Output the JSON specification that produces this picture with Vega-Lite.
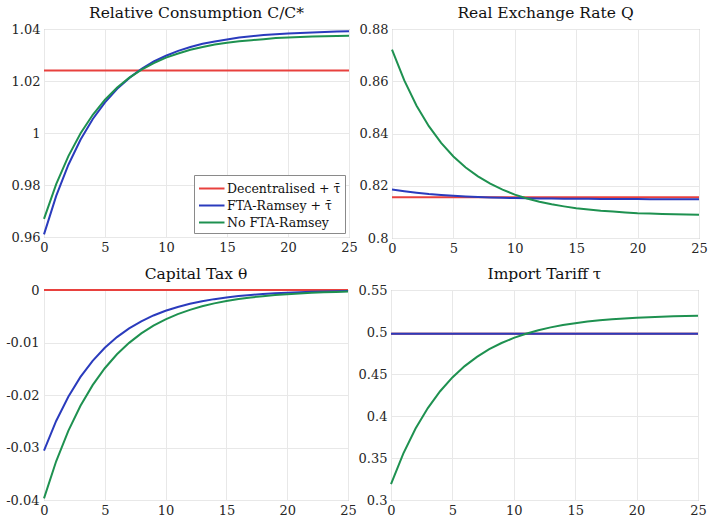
{
  "$schema": "https://vega.github.io/schema/vega-lite/v6.json",
  "padding": {"left": 5, "top": 5, "right": 5, "bottom": 2},
  "background": "white",
  "config": {
    "font": "DejaVu Serif",
    "view": {"stroke": "#a0a0a0", "strokeWidth": 1},
    "axis": {"domain": false, "ticks": false, "grid": true, "gridColor": "#e8e8e8", "labelFont": "DejaVu Serif", "labelFontSize": 13, "labelColor": "#262626", "labelPadding": 4, "labelFlush": false, "labelOverlap": false},
    "title": {"font": "DejaVu Serif", "fontSize": 15.5, "fontWeight": "normal", "color": "#111111", "offset": 2},
    "legend": {"fillColor": "white", "strokeColor": "#8a8a8a", "padding": 4, "labelFont": "DejaVu Serif", "labelFontSize": 12.5, "labelColor": "#111111", "symbolType": "M-1,0H2", "symbolStrokeWidth": 2, "symbolSize": 289, "rowPadding": 1, "labelOffset": 10}
  },
  "datasets": {
    "cons": [
      {"t": 0, "dec": 1.024, "fta": 0.9610, "no": 0.9670},
      {"t": 1, "dec": 1.024, "fta": 0.9758, "no": 0.9803},
      {"t": 2, "dec": 1.024, "fta": 0.9878, "no": 0.9911},
      {"t": 3, "dec": 1.024, "fta": 0.9975, "no": 0.9999},
      {"t": 4, "dec": 1.024, "fta": 1.0054, "no": 1.0070},
      {"t": 5, "dec": 1.024, "fta": 1.0118, "no": 1.0128},
      {"t": 6, "dec": 1.024, "fta": 1.0170, "no": 1.0175},
      {"t": 7, "dec": 1.024, "fta": 1.0212, "no": 1.0213},
      {"t": 8, "dec": 1.024, "fta": 1.0247, "no": 1.0244},
      {"t": 9, "dec": 1.024, "fta": 1.0275, "no": 1.0269},
      {"t": 10, "dec": 1.024, "fta": 1.0297, "no": 1.0290},
      {"t": 11, "dec": 1.024, "fta": 1.0316, "no": 1.0306},
      {"t": 12, "dec": 1.024, "fta": 1.0331, "no": 1.0320},
      {"t": 13, "dec": 1.024, "fta": 1.0343, "no": 1.0331},
      {"t": 14, "dec": 1.024, "fta": 1.0352, "no": 1.0340},
      {"t": 15, "dec": 1.024, "fta": 1.0360, "no": 1.0347},
      {"t": 16, "dec": 1.024, "fta": 1.0367, "no": 1.0353},
      {"t": 17, "dec": 1.024, "fta": 1.0372, "no": 1.0357},
      {"t": 18, "dec": 1.024, "fta": 1.0377, "no": 1.0361},
      {"t": 19, "dec": 1.024, "fta": 1.0380, "no": 1.0365},
      {"t": 20, "dec": 1.024, "fta": 1.0383, "no": 1.0367},
      {"t": 21, "dec": 1.024, "fta": 1.0385, "no": 1.0369},
      {"t": 22, "dec": 1.024, "fta": 1.0387, "no": 1.0371},
      {"t": 23, "dec": 1.024, "fta": 1.0388, "no": 1.0372},
      {"t": 24, "dec": 1.024, "fta": 1.0390, "no": 1.0373},
      {"t": 25, "dec": 1.024, "fta": 1.0391, "no": 1.0374}
    ],
    "rer": [
      {"t": 0, "dec": 0.8156, "fta": 0.8186, "no": 0.8721},
      {"t": 1, "dec": 0.8156, "fta": 0.8179, "no": 0.8603},
      {"t": 2, "dec": 0.8156, "fta": 0.8173, "no": 0.8506},
      {"t": 3, "dec": 0.8156, "fta": 0.8168, "no": 0.8428},
      {"t": 4, "dec": 0.8156, "fta": 0.8165, "no": 0.8364},
      {"t": 5, "dec": 0.8156, "fta": 0.8162, "no": 0.8312},
      {"t": 6, "dec": 0.8156, "fta": 0.8159, "no": 0.8270},
      {"t": 7, "dec": 0.8156, "fta": 0.8157, "no": 0.8236},
      {"t": 8, "dec": 0.8156, "fta": 0.8155, "no": 0.8208},
      {"t": 9, "dec": 0.8156, "fta": 0.8154, "no": 0.8185},
      {"t": 10, "dec": 0.8156, "fta": 0.8153, "no": 0.8166},
      {"t": 11, "dec": 0.8156, "fta": 0.8152, "no": 0.8151},
      {"t": 12, "dec": 0.8156, "fta": 0.8151, "no": 0.8139},
      {"t": 13, "dec": 0.8156, "fta": 0.8151, "no": 0.8129},
      {"t": 14, "dec": 0.8156, "fta": 0.8150, "no": 0.8121},
      {"t": 15, "dec": 0.8156, "fta": 0.8150, "no": 0.8114},
      {"t": 16, "dec": 0.8156, "fta": 0.8150, "no": 0.8109},
      {"t": 17, "dec": 0.8156, "fta": 0.8149, "no": 0.8104},
      {"t": 18, "dec": 0.8156, "fta": 0.8149, "no": 0.8101},
      {"t": 19, "dec": 0.8156, "fta": 0.8149, "no": 0.8098},
      {"t": 20, "dec": 0.8156, "fta": 0.8149, "no": 0.8095},
      {"t": 21, "dec": 0.8156, "fta": 0.8148, "no": 0.8094},
      {"t": 22, "dec": 0.8156, "fta": 0.8148, "no": 0.8092},
      {"t": 23, "dec": 0.8156, "fta": 0.8148, "no": 0.8091},
      {"t": 24, "dec": 0.8156, "fta": 0.8148, "no": 0.8090},
      {"t": 25, "dec": 0.8156, "fta": 0.8148, "no": 0.8089}
    ],
    "tax": [
      {"t": 0, "dec": 0, "fta": -0.0306, "no": -0.0397},
      {"t": 1, "dec": 0, "fta": -0.02494, "no": -0.03263},
      {"t": 2, "dec": 0, "fta": -0.02032, "no": -0.02683},
      {"t": 3, "dec": 0, "fta": -0.01656, "no": -0.02205},
      {"t": 4, "dec": 0, "fta": -0.0135, "no": -0.01812},
      {"t": 5, "dec": 0, "fta": -0.011, "no": -0.0149},
      {"t": 6, "dec": 0, "fta": -0.00897, "no": -0.01225},
      {"t": 7, "dec": 0, "fta": -0.00731, "no": -0.01007},
      {"t": 8, "dec": 0, "fta": -0.00596, "no": -0.00827},
      {"t": 9, "dec": 0, "fta": -0.00485, "no": -0.0068},
      {"t": 10, "dec": 0, "fta": -0.00396, "no": -0.00559},
      {"t": 11, "dec": 0, "fta": -0.00323, "no": -0.0046},
      {"t": 12, "dec": 0, "fta": -0.00263, "no": -0.00378},
      {"t": 13, "dec": 0, "fta": -0.00214, "no": -0.0031},
      {"t": 14, "dec": 0, "fta": -0.00174, "no": -0.00255},
      {"t": 15, "dec": 0, "fta": -0.00142, "no": -0.0021},
      {"t": 16, "dec": 0, "fta": -0.00116, "no": -0.00173},
      {"t": 17, "dec": 0, "fta": -0.00095, "no": -0.00142},
      {"t": 18, "dec": 0, "fta": -0.00077, "no": -0.00117},
      {"t": 19, "dec": 0, "fta": -0.00063, "no": -0.00096},
      {"t": 20, "dec": 0, "fta": -0.00051, "no": -0.00079},
      {"t": 21, "dec": 0, "fta": -0.00042, "no": -0.00065},
      {"t": 22, "dec": 0, "fta": -0.00034, "no": -0.00053},
      {"t": 23, "dec": 0, "fta": -0.00028, "no": -0.00044},
      {"t": 24, "dec": 0, "fta": -0.00023, "no": -0.00036},
      {"t": 25, "dec": 0, "fta": -0.00018, "no": -0.0003}
    ],
    "tariff": [
      {"t": 0, "dec": 0.4978, "fta": 0.4978, "no": 0.3188},
      {"t": 1, "dec": 0.4978, "fta": 0.4978, "no": 0.3552},
      {"t": 2, "dec": 0.4978, "fta": 0.4978, "no": 0.3850},
      {"t": 3, "dec": 0.4978, "fta": 0.4978, "no": 0.4094},
      {"t": 4, "dec": 0.4978, "fta": 0.4978, "no": 0.4295},
      {"t": 5, "dec": 0.4978, "fta": 0.4978, "no": 0.4459},
      {"t": 6, "dec": 0.4978, "fta": 0.4978, "no": 0.4594},
      {"t": 7, "dec": 0.4978, "fta": 0.4978, "no": 0.4704},
      {"t": 8, "dec": 0.4978, "fta": 0.4978, "no": 0.4795},
      {"t": 9, "dec": 0.4978, "fta": 0.4978, "no": 0.4869},
      {"t": 10, "dec": 0.4978, "fta": 0.4978, "no": 0.4930},
      {"t": 11, "dec": 0.4978, "fta": 0.4978, "no": 0.4980},
      {"t": 12, "dec": 0.4978, "fta": 0.4978, "no": 0.5021},
      {"t": 13, "dec": 0.4978, "fta": 0.4978, "no": 0.5055},
      {"t": 14, "dec": 0.4978, "fta": 0.4978, "no": 0.5083},
      {"t": 15, "dec": 0.4978, "fta": 0.4978, "no": 0.5105},
      {"t": 16, "dec": 0.4978, "fta": 0.4978, "no": 0.5124},
      {"t": 17, "dec": 0.4978, "fta": 0.4978, "no": 0.5139},
      {"t": 18, "dec": 0.4978, "fta": 0.4978, "no": 0.5151},
      {"t": 19, "dec": 0.4978, "fta": 0.4978, "no": 0.5162},
      {"t": 20, "dec": 0.4978, "fta": 0.4978, "no": 0.5170},
      {"t": 21, "dec": 0.4978, "fta": 0.4978, "no": 0.5177},
      {"t": 22, "dec": 0.4978, "fta": 0.4978, "no": 0.5182},
      {"t": 23, "dec": 0.4978, "fta": 0.4978, "no": 0.5187},
      {"t": 24, "dec": 0.4978, "fta": 0.4978, "no": 0.5191},
      {"t": 25, "dec": 0.4978, "fta": 0.4978, "no": 0.5194}
    ]
  },
  "spacing": 10,
  "resolve": {"scale": {"color": "independent"}, "legend": {"color": "independent"}},
  "vconcat": [
    {
      "spacing": 0,
      "resolve": {"scale": {"color": "independent"}, "legend": {"color": "independent"}},
      "hconcat": [
        {
          "width": 305, "height": 208,
          "title": {"text": "Relative Consumption C/C*"},
          "data": {"name": "cons"},
          "transform": [{"fold": ["dec", "fta", "no"], "as": ["series", "v"]}],
          "mark": {"type": "line", "strokeWidth": 2},
          "encoding": {
            "x": {"field": "t", "type": "quantitative", "scale": {"domain": [0, 25], "nice": false}, "axis": {"values": [0, 5, 10, 15, 20, 25], "title": null}},
            "y": {"field": "v", "type": "quantitative", "scale": {"domain": [0.96, 1.04], "nice": false, "zero": false}, "axis": {"values": [0.96, 0.98, 1, 1.02, 1.04], "format": "~g", "title": null, "labelPadding": 4, "minExtent": 29, "maxExtent": 29}},
            "color": {"field": "series", "type": "nominal", "scale": {"domain": ["dec", "fta", "no"], "range": ["#e8413e", "#2a3bbd", "#1e9150"]},
              "legend": {"title": null, "orient": "bottom-right", "offset": 4, "labelExpr": "datum.label == 'dec' ? 'Decentralised + τ̄' : datum.label == 'fta' ? 'FTA-Ramsey + τ̄' : 'No FTA-Ramsey'"}}
          }
        },
        {
          "width": 307, "height": 209,
          "title": {"text": "Real Exchange Rate Q"},
          "data": {"name": "rer"},
          "transform": [{"fold": ["dec", "fta", "no"], "as": ["series", "v"]}],
          "mark": {"type": "line", "strokeWidth": 2},
          "encoding": {
            "x": {"field": "t", "type": "quantitative", "scale": {"domain": [0, 25], "nice": false}, "axis": {"values": [0, 5, 10, 15, 20, 25], "title": null}},
            "y": {"field": "v", "type": "quantitative", "scale": {"domain": [0.8, 0.88], "nice": false, "zero": false}, "axis": {"values": [0.8, 0.82, 0.84, 0.86, 0.88], "format": "~g", "title": null, "labelPadding": 4, "minExtent": 29, "maxExtent": 29}},
            "color": {"field": "series", "type": "nominal", "scale": {"domain": ["dec", "fta", "no"], "range": ["#e8413e", "#2a3bbd", "#1e9150"]}, "legend": null}
          }
        }
      ]
    },
    {
      "spacing": 0,
      "resolve": {"scale": {"color": "independent"}, "legend": {"color": "independent"}},
      "hconcat": [
        {
          "width": 304, "height": 210,
          "title": {"text": "Capital Tax θ"},
          "data": {"name": "tax"},
          "transform": [{"fold": ["dec", "fta", "no"], "as": ["series", "v"]}],
          "mark": {"type": "line", "strokeWidth": 2},
          "encoding": {
            "x": {"field": "t", "type": "quantitative", "scale": {"domain": [0, 25], "nice": false}, "axis": {"values": [0, 5, 10, 15, 20, 25], "title": null}},
            "y": {"field": "v", "type": "quantitative", "scale": {"domain": [-0.04, 0], "nice": false, "zero": false}, "axis": {"values": [-0.04, -0.03, -0.02, -0.01, 0], "labelExpr": "replace(format(datum.value, '~g'), '−', '-')", "title": null, "labelPadding": 5, "minExtent": 34, "maxExtent": 34}},
            "color": {"field": "series", "type": "nominal", "scale": {"domain": ["dec", "fta", "no"], "range": ["#e8413e", "#2a3bbd", "#1e9150"]}, "legend": null}
          }
        },
        {
          "width": 307, "height": 210,
          "title": {"text": "Import Tariff τ"},
          "data": {"name": "tariff"},
          "transform": [{"fold": ["dec", "fta", "no"], "as": ["series", "v"]}],
          "mark": {"type": "line", "strokeWidth": 2},
          "encoding": {
            "x": {"field": "t", "type": "quantitative", "scale": {"domain": [0, 25], "nice": false}, "axis": {"values": [0, 5, 10, 15, 20, 25], "title": null}},
            "y": {"field": "v", "type": "quantitative", "scale": {"domain": [0.3, 0.55], "nice": false, "zero": false}, "axis": {"values": [0.3, 0.35, 0.4, 0.45, 0.5, 0.55], "format": "~g", "title": null, "labelPadding": 4, "minExtent": 29, "maxExtent": 29}},
            "color": {"field": "series", "type": "nominal", "scale": {"domain": ["dec", "fta", "no"], "range": ["#e8413e", "#2a3bbd", "#1e9150"]}, "legend": null}
          }
        }
      ]
    }
  ]
}
